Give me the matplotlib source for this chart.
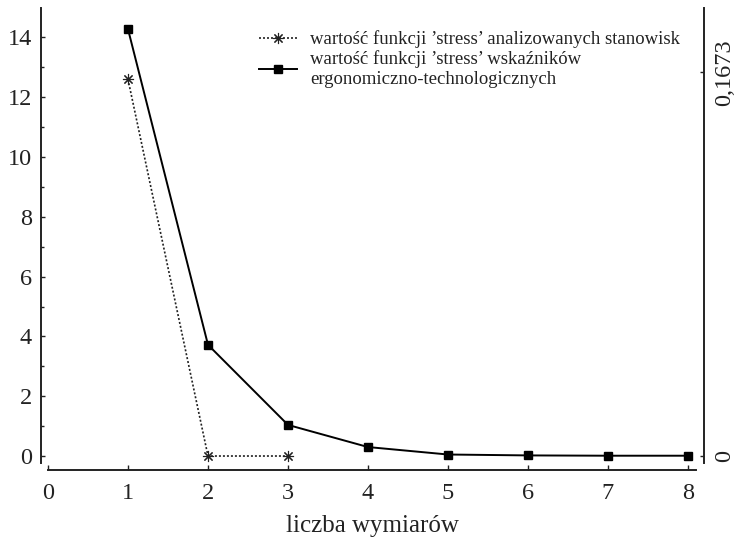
import matplotlib
matplotlib.use("Agg")
import matplotlib.pyplot as plt

# number of dimensions
dims = [1, 2, 3, 4, 5, 6, 7, 8]
# stress of the ergonomic-technological indicators
stress_indicators = [14.28, 3.72, 1.04, 0.30, 0.05, 0.02, 0.01, 0.01]
# stress of the analysed workstations
dims_stations = [1, 2, 3]
stress_stations = [12.6, 0.0, 0.0]

x_ticks = [0, 1, 2, 3, 4, 5, 6, 7, 8]
y_ticks = [0, 2, 4, 6, 8, 10, 12, 14]
right_ticks = [0, 0.1673]
right_labels = ["0", "0,1673"]

label_stations = "wartość funkcji ’stress’ analizowanych stanowisk"
label_indicators = "wartość funkcji ’stress’ wskaźników\nergonomiczno-technologicznych"
x_label = "liczba wymiarów"

ink = "#222222"
plt.rcParams["font.family"] = ["Liberation Serif", "DejaVu Serif"]
plt.rcParams["text.color"] = ink

fig = plt.figure(figsize=(7.36, 5.39), dpi=100)
ax = fig.add_axes([0.0557, 0.1401, 0.9008, 0.8458])

ax.plot(dims_stations, stress_stations, linestyle=(0, (1.2, 1.2)), color=ink,
        linewidth=1.2, marker=(8, 2, 0), markersize=8, markeredgewidth=0.8,
        label=label_stations)
ax.plot(dims, stress_indicators, linestyle="-", color="black", linewidth=1.4,
        marker="s", markersize=6.2, label=label_indicators)

ax.set_xlim(-0.0875, 8.2)
ax.set_ylim(-0.25, 15.0)

ax.spines["top"].set_visible(False)
ax.spines["right"].set_visible(False)
ax.spines["left"].set_bounds(-0.25, 15.0)
ax.spines["bottom"].set_position(("outward", 5))
ax.spines["bottom"].set_bounds(0, 8.1)
for s in ("left", "bottom"):
    ax.spines[s].set_linewidth(1.4)
    ax.spines[s].set_color(ink)

ax.set_xticks(x_ticks)
ax.set_xticklabels([str(v) for v in x_ticks])
ax.set_yticks(y_ticks)
ax.set_yticklabels([str(v) for v in y_ticks])
ax.set_yticks(range(0, 15), minor=True)
ax.tick_params(axis="x", direction="in", length=3.5, width=1, labelsize=17.5, pad=9,
               colors=ink)
ax.tick_params(axis="y", which="major", direction="in", length=3, width=1, labelsize=17.5,
               pad=6.5, colors=ink)
ax.tick_params(axis="y", which="minor", direction="in", length=2.5, width=1, colors=ink)
ax.set_xlabel(x_label, fontsize=18, labelpad=8, color=ink)

# right-hand scale
ax2 = ax.twinx()
ax2.set_ylim(-0.25 * 0.1673 / 12.83, 15.0 * 0.1673 / 12.83)
for s in ("top", "left", "bottom"):
    ax2.spines[s].set_visible(False)
ax2.spines["right"].set_linewidth(1.4)
ax2.spines["right"].set_color(ink)
ax2.set_yticks(right_ticks)
ax2.set_yticklabels(right_labels, rotation=90, va="center")
ax2.tick_params(axis="y", direction="in", length=3, width=1, labelsize=17.5, pad=7,
                colors=ink)

leg = ax.legend(loc="upper right", bbox_to_anchor=(0.975, 0.966), frameon=False,
                fontsize=13.5, handlelength=2.0, handletextpad=0.7,
                labelspacing=0.1, borderaxespad=0.0)

fig.savefig("out.png", dpi=100)
